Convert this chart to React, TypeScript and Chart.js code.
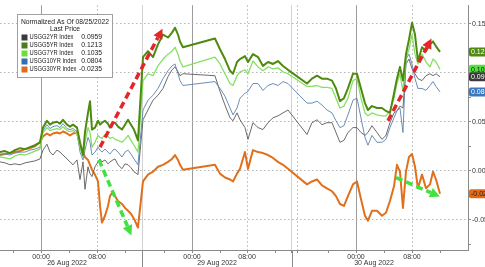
import React, { useEffect, useRef } from 'react';
import { Chart, registerables } from 'chart.js';

Chart.register(...registerables);

// time axis: compressed session hours from the left edge of the chart
const times = [
  0, 0.71, 1.43, 2.14, 2.86, 3.57, 4.29, 5.0, 5.71,
  6.14, 6.71, 7.14, 7.57, 8.14, 8.57, 9.0, 9.57, 10.0, 10.43, 11.0,
  11.43, 11.86, 12.14, 12.57, 12.86, 13.14, 13.57, 14.0, 14.29, 14.57,
  15.0, 15.43, 15.71, 16.14, 16.43, 16.86, 17.43, 17.86, 18.29, 18.71, 19.14, 19.71,
  20.43, 21.14, 21.86, 22.57, 23.29, 24.0, 24.57, 25.0, 25.43, 25.71, 26.14,
  30.71, 31.43, 32.14, 32.86, 33.29, 33.86, 34.29, 35.0, 35.43,
  36.14, 36.86, 37.57, 38.29, 39.0, 39.71, 40.43, 41.14,
  43.86, 44.57, 45.29, 46.0, 46.71, 47.43,
  48.0, 48.57, 49.14, 49.71,
  50.43, 51.0, 51.57, 52.14, 52.57, 53.14, 53.86, 54.57, 55.14,
  55.71, 56.29, 56.71, 57.14, 57.57,
  58.0, 58.43, 58.86, 59.29, 59.71, 60.29, 60.86, 61.43, 61.86, 62.29, 62.86,
];

const usgg2yr = [
  0.009, 0.008, 0.006, 0.007, 0.006, 0.008, 0.009, 0.010, 0.012,
  0.021, 0.027, 0.019, 0.016, 0.021, 0.019, 0.016, 0.012, 0.009, 0.006, 0.011,
  -0.009, 0.009, -0.019, 0.004, -0.003, -0.006, 0.004, 0.009, 0.012, 0.009,
  0.011, 0.007, 0.009, 0.011, 0.012, 0.006, 0.002, 0.007, 0.006, 0.003, -0.001, -0.004,
  0.052, 0.062, 0.072, 0.077, 0.084, 0.096, 0.103, 0.106, 0.101, 0.097, 0.099,
  0.097, 0.081, 0.067, 0.054, 0.051, 0.059, 0.052, 0.044, 0.032,
  0.049, 0.044, 0.042, 0.049, 0.054, 0.056, 0.059, 0.062,
  0.037, 0.049, 0.052, 0.047, 0.049, 0.049,
  0.039, 0.029, 0.031, 0.039,
  0.044, 0.044, 0.039, 0.036, 0.039, 0.046, 0.039, 0.032, 0.036,
  0.049, 0.059, 0.061, 0.066, 0.064,
  0.109, 0.114, 0.104, 0.099, 0.094, 0.092, 0.097, 0.099, 0.097, 0.099, 0.0959,
];

const usgg5yr = [
  0.019, 0.020, 0.018, 0.021, 0.023, 0.022, 0.024, 0.026, 0.029,
  0.044, 0.051, 0.047, 0.049, 0.050, 0.048, 0.052, 0.047, 0.045, 0.047, 0.044,
  0.029, 0.016, 0.039, 0.059, 0.071, 0.042, 0.044, 0.051, 0.047, 0.049,
  0.051, 0.048, 0.044, 0.049, 0.049, 0.045, 0.042, 0.047, 0.052, 0.047, 0.042, 0.031,
  0.116, 0.122, 0.116, 0.129, 0.139, 0.136, 0.141, 0.146, 0.139, 0.132, 0.126,
  0.135, 0.124, 0.114, 0.102, 0.099, 0.111, 0.114, 0.117, 0.111,
  0.119, 0.116, 0.107, 0.111, 0.109, 0.112, 0.107, 0.103,
  0.089, 0.094, 0.097, 0.094, 0.094, 0.092,
  0.084, 0.071, 0.074, 0.084,
  0.099, 0.099, 0.084, 0.069, 0.062, 0.066, 0.064, 0.064, 0.061,
  0.059, 0.079, 0.094, 0.106, 0.092,
  0.119, 0.134, 0.151, 0.139, 0.112, 0.126, 0.122, 0.129, 0.132, 0.127, 0.1213,
];

const usgg7yr = [
  0.014, 0.013, 0.012, 0.015, 0.017, 0.016, 0.018, 0.020, 0.022,
  0.039, 0.044, 0.041, 0.042, 0.043, 0.042, 0.045, 0.041, 0.040, 0.041, 0.038,
  0.024, 0.014, 0.029, 0.044, 0.039, 0.024, 0.029, 0.036, 0.034, 0.033,
  0.037, 0.035, 0.033, 0.034, 0.032, 0.031, 0.029, 0.032, 0.036, 0.031, 0.026, 0.019,
  0.092, 0.099, 0.097, 0.107, 0.114, 0.119, 0.122, 0.126, 0.119, 0.112, 0.106,
  0.116, 0.109, 0.099, 0.089, 0.087, 0.097, 0.101, 0.103, 0.099,
  0.112, 0.106, 0.102, 0.106, 0.104, 0.105, 0.101, 0.099,
  0.086, 0.086, 0.087, 0.085, 0.085, 0.084,
  0.074, 0.064, 0.066, 0.074,
  0.092, 0.094, 0.074, 0.059, 0.056, 0.059, 0.057, 0.056, 0.056,
  0.061, 0.074, 0.089, 0.099, 0.081,
  0.114, 0.124, 0.139, 0.119, 0.109, 0.119, 0.111, 0.106, 0.114, 0.111, 0.1035,
];

const usgg10yr = [
  0.017, 0.017, 0.016, 0.018, 0.019, 0.019, 0.021, 0.022, 0.024,
  0.041, 0.047, 0.043, 0.045, 0.046, 0.044, 0.048, 0.043, 0.042, 0.043, 0.040,
  0.019, 0.011, 0.021, 0.034, 0.029, 0.016, 0.019, 0.024, 0.021, 0.019,
  0.022, 0.019, 0.017, 0.021, 0.022, 0.019, 0.014, 0.019, 0.021, 0.017, 0.012, 0.006,
  0.062, 0.072, 0.077, 0.084, 0.094, 0.102, 0.107, 0.109, 0.099, 0.092, 0.087,
  0.091, 0.084, 0.076, 0.064, 0.057, 0.064, 0.074, 0.079, 0.081,
  0.089, 0.089, 0.082, 0.087, 0.089, 0.087, 0.091, 0.089,
  0.069, 0.069, 0.071, 0.067, 0.062, 0.059,
  0.051, 0.044, 0.046, 0.057,
  0.072, 0.074, 0.054, 0.034, 0.026, 0.036, 0.029, 0.029, 0.032,
  0.044, 0.054, 0.061, 0.064, 0.039,
  0.114, 0.119, 0.109, 0.094, 0.084, 0.084, 0.082, 0.087, 0.091, 0.086, 0.0804,
];

const usgg30yr = [
  0.016, 0.017, 0.018, 0.019, 0.020, 0.022, 0.023, 0.025, 0.029,
  0.035, 0.038, 0.036, 0.038, 0.039, 0.038, 0.040, 0.038, 0.036, 0.038, 0.039,
  0.026, 0.019, 0.014, 0.011, 0.006, 0.001, -0.004, -0.011, -0.036, -0.053,
  -0.046, -0.036, -0.026, -0.021, -0.026, -0.031, -0.034, -0.038, -0.041, -0.044, -0.049, -0.058,
  -0.011, -0.004, -0.001, 0.004, 0.006, 0.009, 0.012, 0.016, 0.011, 0.006, 0.001,
  0.006, -0.003, -0.007, -0.009, -0.011, -0.003, 0.002, 0.019, 0.002,
  0.021, 0.019, 0.018, 0.016, 0.013, 0.009, 0.006, 0.002,
  -0.014, -0.011, -0.009, -0.015, -0.018, -0.021,
  -0.026, -0.034, -0.036, -0.026,
  -0.014, -0.011, -0.029, -0.046, -0.051, -0.041, -0.041, -0.046, -0.043,
  -0.031, -0.016, 0.006, -0.001, -0.038,
  -0.001, 0.014, 0.017, 0.004, -0.018, -0.004, -0.018, -0.014, -0.001, -0.009, -0.0235,
];

const seriesNames = ['USGG2YR Index', 'USGG5YR Index', 'USGG7YR Index', 'USGG10YR Index', 'USGG30YR Index'];
const seriesValues = [usgg2yr, usgg5yr, usgg7yr, usgg10yr, usgg30yr];
const lastPrices = [0.0959, 0.1213, 0.1035, 0.0804, -0.0235];
const seriesColors = ['#5a5a5a', '#4e8a10', '#86e063', '#5b80ae', '#e0701c'];
const seriesWidths = [0.9, 2, 1.3, 0.9, 2];
const seriesDrawOrder = [4, 1, 2, 3, 5]; // lower = on top
const swatchColors = ['#3a3a3a', '#4c7d1a', '#6ddd3e', '#2f6fb3', '#e06a1e'];
const badgeColors = ['#3b3b3b', '#4e8a14', '#55e040', '#3a78c0', '#e36a12'];
const badgeTextColors = ['#ffffff', '#ffffff', '#111111', '#ffffff', '#1a1a1a'];
const badgeDrawOrder = [1, 2, 0, 3, 4];

// annotation arrows: [start, head base] in (hours, value)
const redArrow1 = [[14.29, 0.024], [22.56, 0.136]];
const redArrow2 = [[55.43, 0.051], [60.98, 0.126]];
const greenArrow1 = [[14.14, 0.011], [18.21, -0.0567]];
const greenArrow2 = [[56.57, -0.007], [61.54, -0.0224]];
const arrowRed = '#e3262b';
const arrowGreen = '#3fe23f';

// axes
const xMin = 0;
const xMax = 66.86;
const yMin = -0.081;
const yMax = 0.169;
const midnightHours = [5.86, 27.43, 50.86];
const eightHours = [13.86, 35.29, 58.86];
const sessionBreakHours = [20.29, 41.71];
const extraDottedHours = [42.57];
const minorTickHours = [1.86, 9.86, 17.86, 23.43, 31.43, 39.29, 46.86, 54.86, 62.86];
const dateLabels = ['26 Aug 2022', '29 Aug 2022', '30 Aug 2022'];
const dateLabelHours = [9.57, 31.0, 53.43];
const yTickValues = [-0.075, -0.05, -0.025, 0, 0.025, 0.05, 0.075, 0.1, 0.125, 0.15];

const legendTitle = 'Normalized As Of 08/25/2022';
const legendSubtitle = 'Last Price';

const FONT = '"Liberation Sans", Arial, sans-serif';

const has = (arr: number[], v: number) => arr.some((t) => Math.abs(t - v) < 1e-6);
const isMajorY = (v: number) => Math.abs(v / 0.05 - Math.round(v / 0.05)) < 1e-6;
const truncLabel = (v: number) => (Math.trunc(v * 100) / 100).toFixed(2);

const allXTicks = [...minorTickHours, ...midnightHours, ...eightHours, ...sessionBreakHours, ...extraDottedHours].sort(
  (a, b) => a - b
);

// draw text squeezed horizontally to a maximum width
const fitText = (ctx: any, text: string, x: number, y: number, maxW: number) => {
  ctx.fillText(text, x, y, maxW);
};

const overlayPlugin = {
  id: 'overlay',
  afterDatasetsDraw(chart: any) {
    const { ctx } = chart;
    const xs = chart.scales.x;
    const ys = chart.scales.y;
    chart.data.datasets.forEach((ds: any) => {
      if (!ds.arrowColor) return;
      const a = ds.data[0];
      const b = ds.data[ds.data.length - 1];
      const x0 = xs.getPixelForValue(a.x);
      const y0 = ys.getPixelForValue(a.y);
      const x1 = xs.getPixelForValue(b.x);
      const y1 = ys.getPixelForValue(b.y);
      const dx = x1 - x0;
      const dy = y1 - y0;
      const len = Math.hypot(dx, dy) || 1;
      const ux = dx / len;
      const uy = dy / len;
      const headLen = 10;
      const halfW = 5;
      const tx = x1 + ux * headLen;
      const ty = y1 + uy * headLen;
      ctx.save();
      ctx.fillStyle = ds.arrowColor;
      ctx.beginPath();
      ctx.moveTo(tx, ty);
      ctx.lineTo(x1 - uy * halfW, y1 + ux * halfW);
      ctx.lineTo(x1 + uy * halfW, y1 - ux * halfW);
      ctx.closePath();
      ctx.fill();
      ctx.restore();
    });
  },
  afterDraw(chart: any) {
    const { ctx, chartArea } = chart;
    const xs = chart.scales.x;
    const ys = chart.scales.y;
    ctx.save();
    // session separators extending below the axis
    ctx.strokeStyle = '#8a8a8a';
    ctx.lineWidth = 1;
    sessionBreakHours.forEach((h) => {
      const px = Math.round(xs.getPixelForValue(h)) + 0.5;
      ctx.beginPath();
      ctx.moveTo(px, chartArea.bottom);
      ctx.lineTo(px, chart.height);
      ctx.stroke();
    });
    // date labels
    ctx.fillStyle = '#333';
    ctx.font = `7px ${FONT}`;
    ctx.textAlign = 'center';
    ctx.textBaseline = 'middle';
    dateLabels.forEach((t, i) => {
      ctx.fillText(t, xs.getPixelForValue(dateLabelHours[i]), 263.5);
    });
    // last value badges
    badgeDrawOrder.forEach((i) => {
      const py = ys.getPixelForValue(lastPrices[i]);
      const left = chartArea.right + 1;
      const h = 9;
      ctx.fillStyle = badgeColors[i];
      ctx.beginPath();
      if (ctx.roundRect) ctx.roundRect(left, py - h / 2, 22, h, 2);
      else ctx.rect(left, py - h / 2, 22, h);
      ctx.fill();
      ctx.fillStyle = badgeTextColors[i];
      ctx.font = `7px ${FONT}`;
      ctx.textAlign = 'left';
      ctx.textBaseline = 'middle';
      ctx.fillText(truncLabel(lastPrices[i]), left + 2, py + 0.5);
    });
    // legend box
    const bx = 17.5;
    const by = 14.5;
    const bw = 95;
    const bh = 63;
    ctx.fillStyle = 'rgba(255,255,255,0.96)';
    ctx.fillRect(bx, by, bw, bh);
    ctx.strokeStyle = '#a0a0a0';
    ctx.lineWidth = 1;
    ctx.strokeRect(bx, by, bw, bh);
    ctx.fillStyle = '#222';
    ctx.font = `6.8px ${FONT}`;
    ctx.textAlign = 'center';
    ctx.textBaseline = 'middle';
    fitText(ctx, legendTitle, bx + bw / 2, 22.5, 88);
    fitText(ctx, legendSubtitle, bx + bw / 2, 29.5, 40);
    seriesNames.forEach((name, i) => {
      const cy = 37.5 + i * 8;
      ctx.fillStyle = swatchColors[i];
      ctx.fillRect(21.5, cy - 3, 6, 6);
      ctx.fillStyle = '#222';
      ctx.font = `6.8px ${FONT}`;
      ctx.textAlign = 'left';
      fitText(ctx, name, 29.5, cy, i === 3 || i === 4 ? 47 : 44);
      ctx.textAlign = 'right';
      fitText(ctx, lastPrices[i].toFixed(4), 102, cy, 24);
    });
    ctx.restore();
  },
};

export default function App() {
  const canvasRef = useRef<HTMLCanvasElement | null>(null);

  useEffect(() => {
    if (!canvasRef.current) return;
    const seriesDatasets = seriesNames.map((name, i) => ({
      label: name,
      data: times.map((t, k) => ({ x: t, y: seriesValues[i][k] })),
      borderColor: seriesColors[i],
      borderWidth: seriesWidths[i],
      pointRadius: 0,
      fill: false,
      tension: 0,
      borderJoinStyle: 'round',
      order: seriesDrawOrder[i],
    }));
    const arrowDefs = [
      { pts: redArrow1, color: arrowRed },
      { pts: greenArrow1, color: arrowGreen },
      { pts: redArrow2, color: arrowRed },
      { pts: greenArrow2, color: arrowGreen },
    ];
    const arrowDatasets = arrowDefs.map((a, i) => ({
      label: 'arrow' + i,
      data: a.pts.map((p) => ({ x: p[0], y: p[1] })),
      borderColor: a.color,
      borderWidth: 3.5,
      borderDash: [7, 4],
      pointRadius: 0,
      fill: false,
      tension: 0,
      order: 0,
      arrowColor: a.color,
    }));

    const chart = new Chart(canvasRef.current, {
      type: 'line',
      data: { datasets: [...arrowDatasets, ...seriesDatasets] as any },
      options: {
        animation: false,
        responsive: false,
        devicePixelRatio: 1,
        layout: { padding: 0 },
        plugins: { legend: { display: false }, tooltip: { enabled: false }, title: { display: false } },
        scales: {
          x: {
            type: 'linear',
            min: xMin,
            max: xMax,
            afterBuildTicks: (s: any) => {
              s.ticks = allXTicks.map((v) => ({ value: v }));
            },
            afterFit: (s: any) => {
              s.height = 17;
            },
            ticks: {
              autoSkip: false,
              maxRotation: 0,
              minRotation: 0,
              padding: 0,
              color: '#333',
              font: { family: FONT, size: 7 },
              callback: (v: any) => (has(midnightHours, v) ? '00:00' : has(eightHours, v) ? '08:00' : ''),
            },
            grid: {
              lineWidth: 1,
              color: (c: any) => {
                const v = c.tick ? c.tick.value : NaN;
                if (has(midnightHours, v)) return '#9c9c9c';
                if (has(sessionBreakHours, v)) return '#d2d2d2';
                if (has(eightHours, v) || has(extraDottedHours, v)) return '#b4b4b4';
                return 'rgba(0,0,0,0)';
              },
              drawTicks: true,
              tickLength: 3,
              tickColor: '#8a8a8a',
              tickWidth: 1,
              tickBorderDash: [],
            },
            border: {
              display: true,
              color: '#8a8a8a',
              width: 1,
              dash: (c: any) => {
                const v = c && c.tick ? c.tick.value : NaN;
                return has(eightHours, v) || has(extraDottedHours, v) ? [1.5, 2.5] : [];
              },
            },
          },
          y: {
            type: 'linear',
            position: 'right',
            min: yMin,
            max: yMax,
            afterBuildTicks: (s: any) => {
              s.ticks = yTickValues.map((v) => ({ value: v }));
            },
            afterFit: (s: any) => {
              s.width = 17;
            },
            ticks: {
              padding: 1,
              color: '#333',
              font: { family: FONT, size: 7 },
              callback: (v: any) => (isMajorY(v) ? Number(v).toFixed(2) : ''),
            },
            grid: {
              lineWidth: 1,
              color: (c: any) => (c.tick && isMajorY(c.tick.value) ? '#b4b4b4' : 'rgba(0,0,0,0)'),
              drawTicks: true,
              tickLength: 3,
              tickColor: '#8a8a8a',
              tickWidth: 1,
              tickBorderDash: [],
            },
            border: { display: true, color: '#8a8a8a', width: 1, dash: [1.5, 2.5] },
          },
        },
      } as any,
      plugins: [overlayPlugin],
    });
    return () => chart.destroy();
  }, []);

  return (
    <div style={{ position: 'fixed', left: 0, top: 0, width: 485, height: 267, background: '#fff' }}>
      <canvas ref={canvasRef} width={485} height={267} style={{ display: 'block', width: 485, height: 267 }} />
    </div>
  );
}
